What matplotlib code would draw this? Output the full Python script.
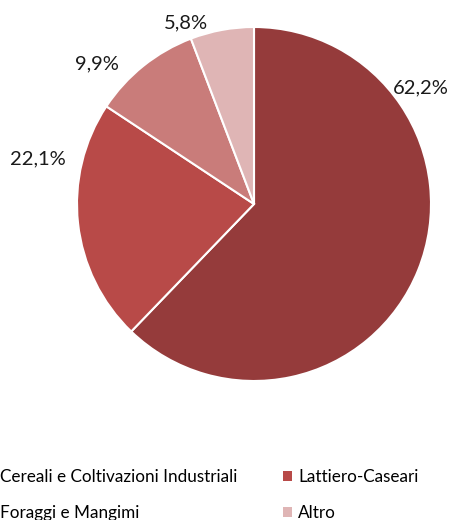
import matplotlib
matplotlib.use("Agg")
import matplotlib.pyplot as plt
from matplotlib.patches import Patch

plt.rcParams["font.family"] = ["Lato", "DejaVu Sans"]

# dati (ordine delle fette in senso orario dall'alto)
labels = ["Cereali e Coltivazioni Industriali", "Lattiero-Caseari", "Foraggi e Mangimi", "Altro"]
values = [62.2, 22.1, 9.9, 5.8]
colors = ["#953B3B", "#B84A48", "#C97C7A", "#DFB5B5"]
# posizione delle etichette percentuali (unità del raggio)
label_pos = [(0.94, 0.655), (-1.22, 0.254), (-0.887, 0.794), (-0.384, 1.025)]

W, H, DPI = 454, 520, 100
R_PX = 177
CX, CY = 254, 204

fig = plt.figure(figsize=(W / DPI, H / DPI), dpi=DPI)
ax = fig.add_axes([0, 0, 1, 1])
wedges, _ = ax.pie(values, colors=colors, startangle=90, counterclock=False,
                   radius=1, wedgeprops=dict(edgecolor="white", linewidth=1.5))
for v, (x, y) in zip(values, label_pos):
    ax.text(x, y, f"{v:.1f}%".replace(".", ","), ha="center", va="center",
            fontsize=14.5, color="#1a1a1a")
ax.set_xlim(-CX / R_PX, (W - CX) / R_PX)
ax.set_ylim(-(H - CY) / R_PX, CY / R_PX)
ax.set_aspect("equal")
ax.axis("off")

handles = [Patch(facecolor=c, edgecolor="none") for c in colors]
# legenda riempita per righe: riordino per colonne
order = [0, 2, 1, 3]
fig.legend([handles[i] for i in order], [labels[i] for i in order], ncol=2,
           loc="upper left", bbox_to_anchor=(-0.066, 0.128), frameon=False,
           fontsize=12.3, handlelength=0.53, handleheight=0.53, handletextpad=0.35,
           columnspacing=2.65, labelspacing=1.2)

fig.savefig("out.png", dpi=DPI)
